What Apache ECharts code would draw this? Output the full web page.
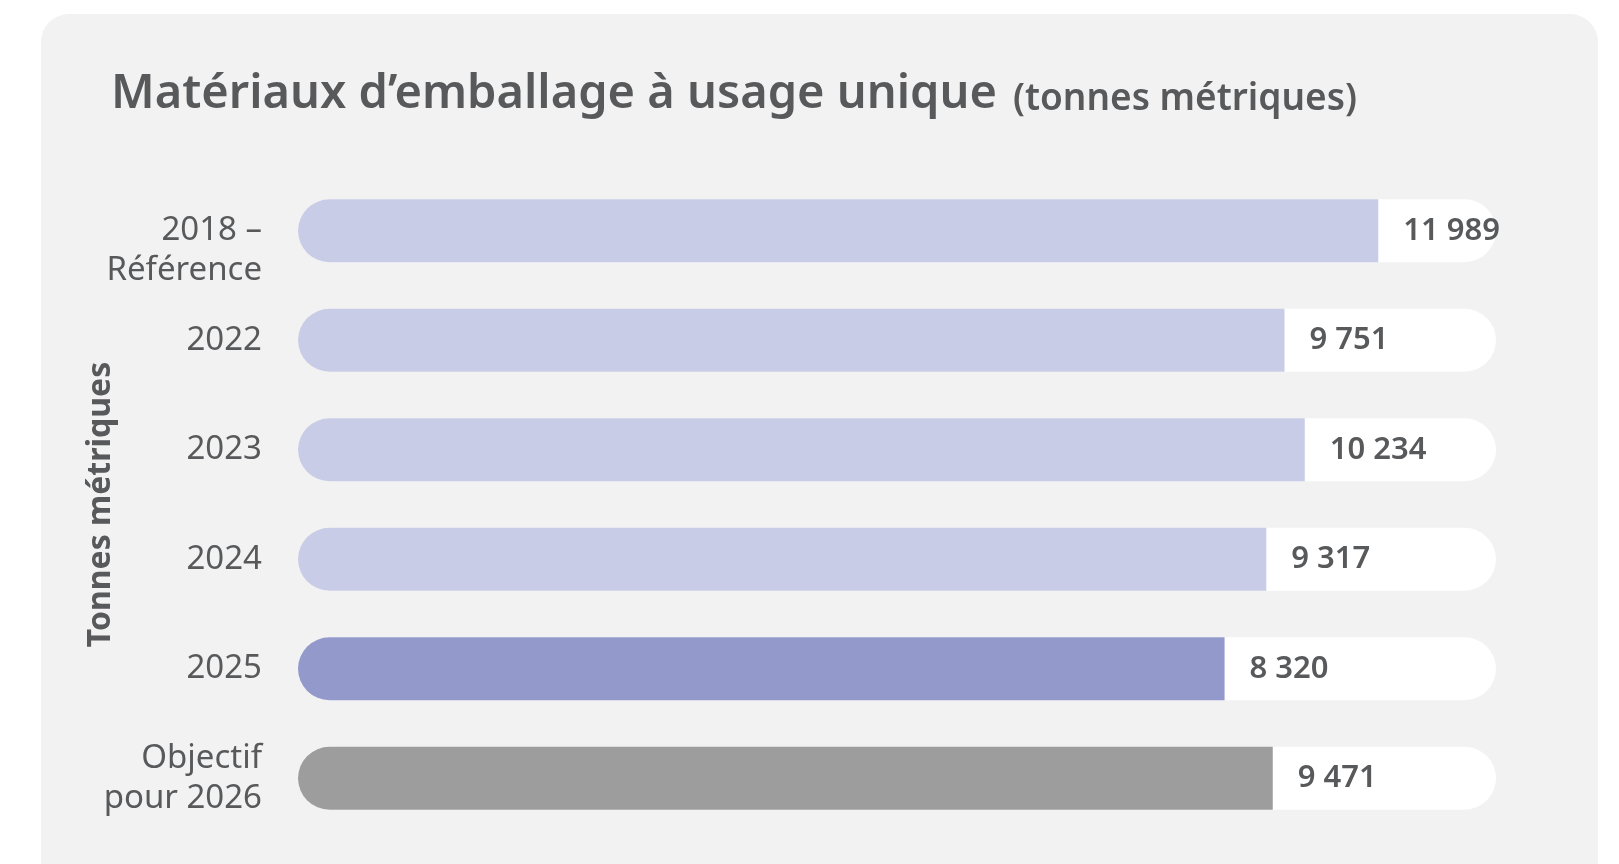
<!DOCTYPE html>
<html>
<head>
<meta charset="utf-8">
<script src="https://cdn.jsdelivr.net/npm/echarts@6/dist/echarts.min.js"></script>
<style>
  html, body { margin: 0; padding: 0; background: #fff; }
  #chart { width: 1619px; height: 864px; }
</style>
</head>
<body>
<div id="chart"></div>
<script>
// Matériaux d'emballage à usage unique
var categories = ['2018 –\nRéférence', '2022', '2023', '2024', '2025', 'Objectif\npour 2026'];
var values = [11989, 9751, 10234, 9317, 8320, 9471];
var axisName = 'Tonnes métriques';
var title = 'Matériaux d’emballage à usage unique';
var subTitle = '(tonnes métriques)';

var textColor = '#58595b';
var colors = ['#c8cce6', '#c8cce6', '#c8cce6', '#c8cce6', '#9399cb', '#9d9d9e'];
var fontFamily = '"Noto Sans", "Open Sans", sans-serif';

function fmt(v) {
    return String(v).replace(/\B(?=(\d{3})+(?!\d))/g, ' ');
}

var myChart = echarts.init(document.getElementById('chart'));

var option = {
    backgroundColor: '#ffffff',
    textStyle: { fontFamily: fontFamily },
    graphic: [{
        type: 'rect',
        left: 41, top: 14, z: -10,
        shape: { width: 1557, height: 880, r: 28 },
        style: { fill: '#f2f2f2' }
    }],
    title: [
        { text: title, left: 106, top: 66,
          textStyle: { color: textColor, fontSize: 47, fontWeight: 600, fontFamily: fontFamily } },
        { text: subTitle, left: 1008, top: 76,
          textStyle: { color: textColor, fontSize: 37, fontWeight: 600, fontFamily: fontFamily } }
    ],
    grid: { left: 298, right: 123, top: 176, bottom: 31, containLabel: false },
    // the infographic does not draw its bars to a zero baseline, so the
    // hidden value axis is widened to match the printed bar lengths
    xAxis: {
        type: 'value', min: -13800, max: 14800, show: false,
        splitLine: { show: false }
    },
    yAxis: {
        type: 'category',
        inverse: true,
        data: categories,
        name: axisName,
        nameLocation: 'middle',
        nameRotate: 90,
        nameGap: 181,
        nameMoveOverlap: false,
        nameTextStyle: { color: textColor, fontSize: 32, fontWeight: 700, fontFamily: fontFamily },
        axisLine: { show: false },
        axisTick: { show: false },
        axisLabel: {
            color: textColor, fontSize: 33, lineHeight: 40, margin: 36,
            fontFamily: fontFamily,
            formatter: function (v, i) { return i === 0 ? '\n' + v : v; }
        }
    },
    series: [{
        type: 'custom',
        encode: { x: 0, y: 1 },
        data: values.map(function (v, i) { return [v, i]; }),
        renderItem: function (params, api) {
            var idx = api.value(1);
            var end = api.coord([api.value(0), idx]);
            var cs = params.coordSys;
            var h = 63;
            var y = end[1] - h / 2;
            return {
                type: 'group',
                children: [
                    { type: 'rect', shape: { x: cs.x, y: y, width: cs.width, height: h, r: h / 2 },
                      style: { fill: '#ffffff' } },
                    { type: 'rect', shape: { x: cs.x, y: y, width: end[0] - cs.x, height: h, r: [h / 2, 0, 0, h / 2] },
                      style: { fill: colors[idx] } },
                    { type: 'text', x: end[0] + 25, y: end[1],
                      style: { text: fmt(api.value(0)), fill: textColor, fontSize: 31, fontWeight: 600,
                               fontFamily: fontFamily, align: 'left', verticalAlign: 'middle' } }
                ]
            };
        }
    }]
};

myChart.setOption(option);
</script>
</body>
</html>
